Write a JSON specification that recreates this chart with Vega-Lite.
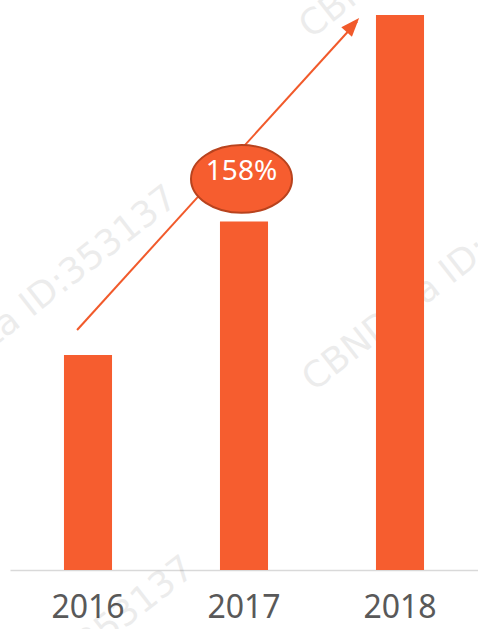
{
  "$schema": "https://vega.github.io/schema/vega-lite/v6.json",
  "width": 468,
  "height": 570,
  "autosize": "none",
  "padding": {"left": 10, "top": 0, "right": 0, "bottom": 59},
  "config": {"view": {"stroke": null}, "font": "Noto Sans"},
  "datasets": {
    "bars": [
      {"year": "2016", "value": 100},
      {"year": "2017", "value": 162},
      {"year": "2018", "value": 258}
    ],
    "arrow": [{"px": -0.07, "py": 111.6, "px2": 1.725, "py2": 255}],
    "head": [{"px": 1.738, "py": 256.6}],
    "badge": [{"px": 0.984, "py": 181.8, "ty": 185, "label": "158%"}],
    "marks": [
      {"px": -0.371, "py": 123.2, "t": "CBNData ID:353137"},
      {"px": 2.32, "py": 138.5, "t": "CBNData ID:353137"},
      {"px": 2.3, "py": 302.5, "t": "CBNData ID:353137"},
      {"px": -0.262, "py": -49, "t": "CBNData ID:353137"}
    ]
  },
  "resolve": {"scale": {"x": "independent"}, "axis": {"x": "independent"}},
  "layer": [
    {
      "data": {"name": "marks"},
      "mark": {"type": "text", "angle": -38, "fontSize": 36, "font": "DejaVu Sans", "fill": "#000", "opacity": 0.07, "align": "center", "baseline": "middle"},
      "encoding": {
        "x": {"field": "px", "type": "quantitative", "scale": {"domain": [-0.5, 2.5]}, "axis": null},
        "y": {"field": "py", "type": "quantitative", "scale": {"domain": [0, 265]}, "axis": null},
        "text": {"field": "t"}
      }
    },
    {
      "data": {"name": "bars"},
      "mark": {"type": "bar", "color": "#F65D2F"},
      "encoding": {
        "x": {
          "field": "year", "type": "ordinal",
          "scale": {"paddingInner": 0.692, "paddingOuter": 0.346},
          "axis": {"title": null, "labelAngle": 0, "ticks": false, "grid": false, "domainColor": "#d9d9d9", "domainWidth": 1.5, "labelFontSize": 32, "labelColor": "#595959", "labelPadding": 22, "labelFont": "Noto Sans"}
        },
        "y": {"field": "value", "type": "quantitative", "scale": {"domain": [0, 265]}, "axis": null}
      }
    },
    {
      "data": {"name": "arrow"},
      "mark": {"type": "rule", "color": "#F15A2B", "strokeWidth": 2},
      "encoding": {
        "x": {"field": "px", "type": "quantitative", "scale": {"domain": [-0.5, 2.5]}, "axis": null},
        "x2": {"field": "px2"},
        "y": {"field": "py", "type": "quantitative", "scale": {"domain": [0, 265]}, "axis": null},
        "y2": {"field": "py2"}
      }
    },
    {
      "data": {"name": "head"},
      "mark": {"type": "point", "shape": "M0,0L0.65,1.7L-0.65,1.7Z", "size": 484, "angle": 42, "filled": true, "color": "#F15A2B", "opacity": 1},
      "encoding": {
        "x": {"field": "px", "type": "quantitative", "scale": {"domain": [-0.5, 2.5]}, "axis": null},
        "y": {"field": "py", "type": "quantitative", "scale": {"domain": [0, 265]}, "axis": null}
      }
    },
    {
      "data": {"name": "badge"},
      "mark": {"type": "point", "shape": "M-1,0A1,0.67,0,1,1,1,0A1,0.67,0,1,1,-1,0Z", "size": 10201, "filled": true, "fill": "#F65D2F", "stroke": "#B8431E", "strokeWidth": 2, "opacity": 1},
      "encoding": {
        "x": {"field": "px", "type": "quantitative", "scale": {"domain": [-0.5, 2.5]}, "axis": null},
        "y": {"field": "py", "type": "quantitative", "scale": {"domain": [0, 265]}, "axis": null}
      }
    },
    {
      "data": {"name": "badge"},
      "mark": {"type": "text", "fontSize": 28, "color": "#ffffff", "align": "center", "baseline": "middle"},
      "encoding": {
        "x": {"field": "px", "type": "quantitative", "scale": {"domain": [-0.5, 2.5]}, "axis": null},
        "y": {"field": "ty", "type": "quantitative", "scale": {"domain": [0, 265]}, "axis": null},
        "text": {"field": "label"}
      }
    }
  ]
}
